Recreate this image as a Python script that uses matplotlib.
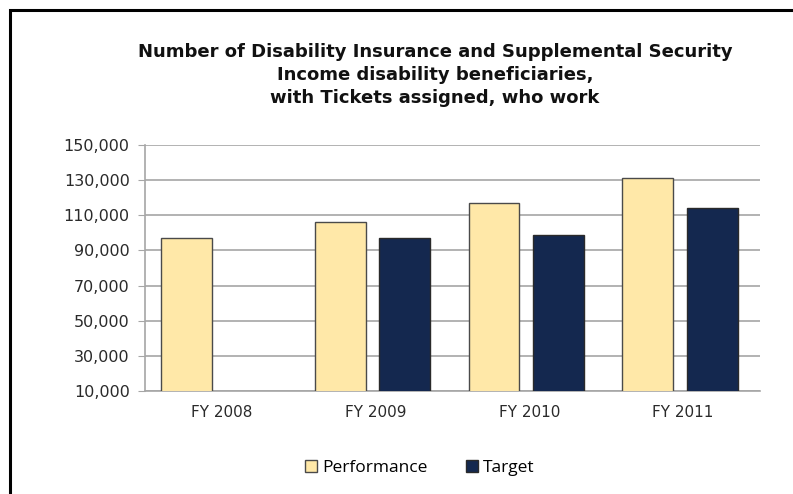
import numpy as np
import matplotlib.pyplot as plt
from matplotlib.patches import Rectangle
from matplotlib.ticker import FuncFormatter

# data
years = ["FY 2008", "FY 2009", "FY 2010", "FY 2011"]
performance = [97000, 106000, 117000, 131000]
target = [np.nan, 97000, 99000, 114000]
yticks = list(range(10000, 150001, 20000))

fig = plt.figure(figsize=(7.93, 4.94), dpi=100)
ax = fig.add_axes([145/793, 1 - 391/494, 615/793, 246/494])

x = np.arange(len(years))
w = 0.33
ax.bar(x - 0.23, performance, w, color="#FFE8A8", edgecolor="#4a4a4a",
       linewidth=1.0, label="Performance", zorder=3)
ax.bar(x + 0.19, target, w, color="#14284F", edgecolor="#2a2a2a",
       linewidth=1.0, label="Target", zorder=3)

ax.set_xlim(-0.5, len(years) - 0.5)
ax.set_ylim(10000, 150000)
ax.set_yticks(yticks)
ax.yaxis.set_major_formatter(FuncFormatter(lambda v, p: f"{int(v):,}"))
ax.set_xticks(x)
ax.set_xticklabels(years)
ax.grid(axis="y", color="#a6a6a6", linewidth=1.2, zorder=0)
for s in ["top", "right"]:
    ax.spines[s].set_visible(False)
for s in ["left", "bottom"]:
    ax.spines[s].set_color("#a6a6a6")
    ax.spines[s].set_linewidth(1.2)
ax.tick_params(axis="y", length=5, color="#a6a6a6", labelsize=11.5, pad=6)
ax.tick_params(axis="x", length=0, labelsize=11, pad=10)
for lab in ax.get_xticklabels() + ax.get_yticklabels():
    lab.set_fontfamily("DejaVu Sans")
    lab.set_color("#2a2a2a")

fig.text(435/793, 1 - 75/494,
         "Number of Disability Insurance and Supplemental Security\n"
         "Income disability beneficiaries,\n"
         "with Tickets assigned, who work",
         ha="center", va="center", fontsize=13, fontweight="bold",
         family="DejaVu Sans", linespacing=1.38, color="#111111")

fig.legend(loc="center", bbox_to_anchor=(420/793, 1 - 468/494), ncol=2,
           frameon=False, prop={"family": "Open Sans", "size": 12.5},
           handlelength=0.7, handleheight=0.7, handletextpad=0.3,
           columnspacing=2.2)

# outer frame of the chart
fig.patches.append(Rectangle((10/793, -0.1), 1.0, 1 - 10/494 + 0.1,
                             transform=fig.transFigure, fill=False,
                             edgecolor="black", linewidth=2.2))

fig.savefig("out.png", dpi=100)
